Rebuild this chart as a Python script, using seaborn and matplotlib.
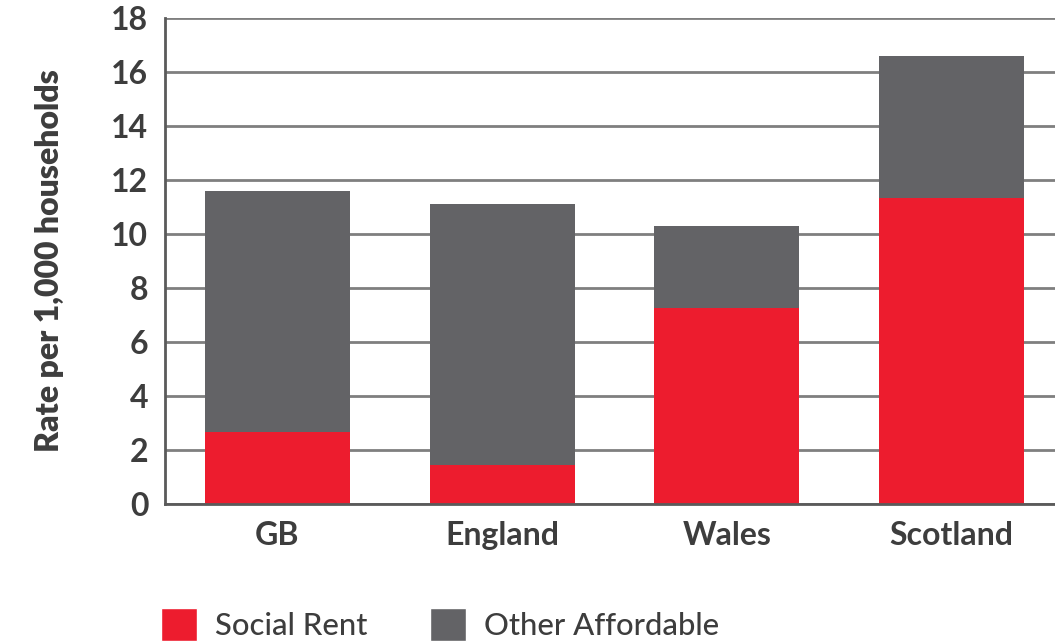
import pandas as pd
import seaborn as sns
import matplotlib.pyplot as plt
from matplotlib.patches import Patch

# values
regions = ["GB", "England", "Wales", "Scotland"]
social_rent = [2.65, 1.45, 7.25, 11.35]
other_affordable = [8.95, 9.65, 3.05, 5.25]

RED = "#ED1C2E"
GREY = "#636366"
TEXT = "#3d3d3d"

data = pd.DataFrame({"Region": regions, "Social Rent": social_rent,
                     "Other Affordable": other_affordable})
data["Total"] = data["Social Rent"] + data["Other Affordable"]

sns.set_style("white")
plt.rcParams["font.family"] = ["Lato", "DejaVu Sans"]

fig = plt.figure(figsize=(10.55, 6.44), dpi=100)
ax = fig.add_axes([0.1564, 0.2174, 0.8436, 0.7546])

# stacked bars: full height in grey, social rent in red on top of it
sns.barplot(data=data, x="Region", y="Total", color=GREY, width=0.645,
            saturation=1, linewidth=0, ax=ax, zorder=3)
sns.barplot(data=data, x="Region", y="Social Rent", color=RED, width=0.645,
            saturation=1, linewidth=0, ax=ax, zorder=4)

ax.set_ylim(0, 18)
ax.set_xlim(-0.5, 3.46)
ax.set_yticks(range(0, 19, 2))
ax.yaxis.grid(True, color="#7f7f7f", linewidth=2, zorder=0)
ax.set_axisbelow(True)

for s in ["top", "right"]:
    ax.spines[s].set_visible(False)
for s in ["left", "bottom"]:
    ax.spines[s].set_color("#5a5a5a")
    ax.spines[s].set_linewidth(2)
    ax.spines[s].set_zorder(5)

ax.tick_params(axis="y", length=0, pad=12, labelsize=23, labelcolor=TEXT)
ax.tick_params(axis="x", which="major", length=0, pad=12, labelsize=23,
               labelcolor=TEXT)
ax.set_xticks([0.5, 1.5, 2.5], minor=True)
ax.tick_params(axis="x", which="minor", direction="in", length=9, width=2,
               color="#5a5a5a")
for lab in ax.get_xticklabels() + ax.get_yticklabels():
    lab.set_fontweight("bold")

ax.set_xlabel("")
ax.set_ylabel("Rate per 1,000 households", fontsize=23, fontweight="heavy",
              color=TEXT, labelpad=34)

handles = [Patch(facecolor=RED, label="Social Rent"),
           Patch(facecolor=GREY, label="Other Affordable")]
fig.legend(handles=handles, loc="lower left", bbox_to_anchor=(0.126, -0.038),
           ncol=2, frameon=False, labelcolor=TEXT,
           prop={"weight": "medium", "size": 22.3},
           handlelength=1.16, handleheight=1.22, handletextpad=0.6,
           columnspacing=2.0)

fig.savefig("out.png", dpi=100)
